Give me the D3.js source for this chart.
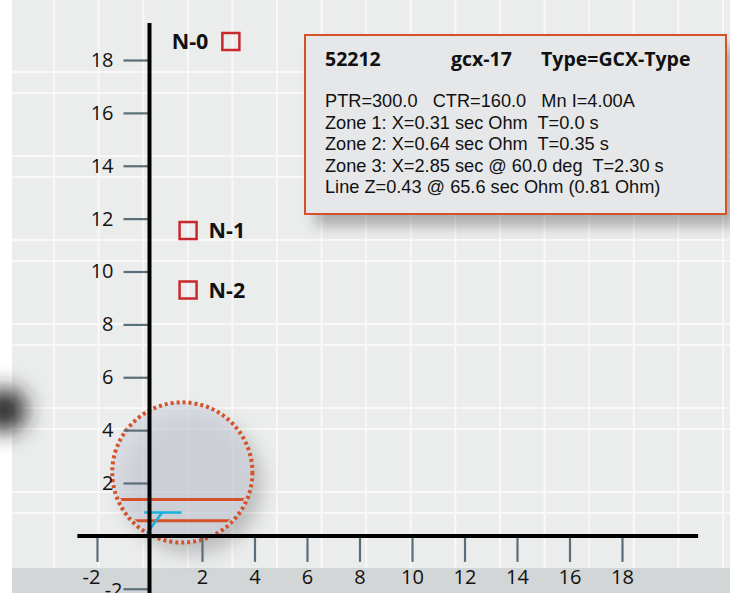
<!DOCTYPE html>
<html><head><meta charset="utf-8">
<script src="https://cdn.jsdelivr.net/npm/d3@7"></script>
<style>body{margin:0;background:#fff;} svg{display:block;font-family:"Open Sans",sans-serif;}</style>
</head><body><svg id="c" width="730" height="593"></svg>
<script>
// ---- data ----
const xTicks = [-2, 2, 4, 6, 8, 10, 12, 14, 16, 18];
const yTicks = [-2, 2, 4, 6, 8, 10, 12, 14, 16, 18];
const markerNames = ["N-0", "N-1", "N-2"];
const markerX = [3.1, 1.47, 1.47];
const markerY = [18.7, 11.55, 9.3];
const markerLabelSide = ["left", "right", "right"];
const zone3Center = [1.25, 2.4];
const zone3Radius = 2.67;
const zoneReach = [1.38, 0.57];
const lineZSlope = [[-0.1, 0.1], [0.48, 0.88]];
const lineZTop = [[-0.2, 0.88], [1.22, 0.88]];
const headerItems = ["52212", "gcx-17", "Type=GCX-Type"];
const infoLines = [
  "PTR=300.0   CTR=160.0   Mn I=4.00A",
  "Zone 1: X=0.31 sec Ohm  T=0.0 s",
  "Zone 2: X=0.64 sec Ohm  T=0.35 s",
  "Zone 3: X=2.85 sec @ 60.0 deg  T=2.30 s",
  "Line Z=0.43 @ 65.6 sec Ohm (0.81 Ohm)"
];

// ---- setup ----
const svg = d3.select("#c");
const W = 730, H = 593;
const x = d3.scaleLinear().domain([-2, 18]).range([97, 622]);
const y = d3.scaleLinear().domain([2, 18]).range([483, 60]);
const ORANGE = "#d4522a", RED = "#c8282d", CYAN = "#19b0e0", TICK = "#5a6e78";

const defs = svg.append("defs");
const f1 = defs.append("filter").attr("id", "shCirc").attr("x", "-50%").attr("y", "-50%").attr("width", "200%").attr("height", "200%");
f1.append("feDropShadow").attr("dx", 10).attr("dy", 12).attr("stdDeviation", 9).attr("flood-color", "#000").attr("flood-opacity", 0.4);
const f2 = defs.append("filter").attr("id", "shBox").attr("x", "-20%").attr("y", "-30%").attr("width", "140%").attr("height", "160%");
f2.append("feDropShadow").attr("dx", 10).attr("dy", 12).attr("stdDeviation", 7).attr("flood-color", "#000").attr("flood-opacity", 0.28);
const f3 = defs.append("filter").attr("id", "blur").attr("x", "-200%").attr("y", "-200%").attr("width", "500%").attr("height", "500%");
f3.append("feGaussianBlur").attr("stdDeviation", 11);

// background
svg.append("rect").attr("x", 12).attr("y", 0).attr("width", W - 12).attr("height", H).attr("fill", "#ebecec");
// decorative grid
const grid = svg.append("g").attr("stroke", "#f8f8f8").attr("stroke-width", 2);
for (let gx = 54; gx < W; gx += 44.6) grid.append("line").attr("x1", gx).attr("x2", gx).attr("y1", 0).attr("y2", H);
[72, 93, 156, 177, 240, 261, 324, 345, 408, 429, 492, 513].forEach(gy =>
  grid.append("line").attr("x1", 12).attr("x2", W).attr("y1", gy).attr("y2", gy));
// bottom band
svg.append("rect").attr("x", 12).attr("y", 568).attr("width", W - 12).attr("height", 25).attr("fill", "#d3d6d6");
// blob
svg.append("circle").attr("cx", 4).attr("cy", 410).attr("r", 22).attr("fill", "#222").attr("filter", "url(#blur)");

// zone 3 circle
const cx = x(zone3Center[0]), cy = y(zone3Center[1]);
const rpx = x(zone3Radius) - x(0);
svg.append("circle").attr("cx", cx).attr("cy", cy).attr("r", rpx)
  .attr("fill", "rgba(200,203,215,0.5)").attr("filter", "url(#shCirc)");
defs.append("clipPath").attr("id", "clipC").append("circle").attr("cx", cx).attr("cy", cy).attr("r", rpx - 3);
svg.append("g").attr("clip-path", "url(#clipC)").selectAll("line").data(zoneReach).join("line")
  .attr("x1", x(-4)).attr("x2", x(7)).attr("y1", d => y(d)).attr("y2", d => y(d))
  .attr("stroke", ORANGE).attr("stroke-width", 3);
svg.append("circle").attr("cx", cx).attr("cy", cy).attr("r", rpx)
  .attr("fill", "none").attr("stroke", ORANGE).attr("stroke-width", 4).attr("stroke-dasharray", "3,3");

// line Z
const ln = d3.line().x(d => x(d[0])).y(d => y(d[1]));
[lineZTop, lineZSlope].forEach(seg => svg.append("path").attr("d", ln(seg))
  .attr("stroke", CYAN).attr("stroke-width", 2.5).attr("fill", "none"));

// axes
const fmt = d => String(d);
const xAxis = svg.append("g").attr("transform", `translate(0,${y(0)})`)
  .call(d3.axisBottom(x).tickValues(xTicks).tickFormat(fmt).tickSize(26).tickPadding(8));
const yAxis = svg.append("g").attr("transform", `translate(${x(0)},0)`)
  .call(d3.axisLeft(y).tickValues(yTicks).tickFormat(fmt).tickSize(26).tickPadding(10));
[xAxis, yAxis].forEach(a => {
  a.select(".domain").remove();
  a.selectAll(".tick line").attr("stroke", TICK).attr("stroke-width", 2.2);
  a.selectAll(".tick text").attr("fill", "#111").attr("font-size", 20).attr("font-family", "Open Sans, sans-serif");
});
xAxis.selectAll(".tick text").filter(d => d < 0).attr("dx", -6);
yAxis.selectAll(".tick text").filter(d => d < 0).attr("dx", 9).attr("dy", "0.4em");
// main axis lines
svg.append("line").attr("x1", x(-2.75)).attr("x2", x(20.9)).attr("y1", y(0)).attr("y2", y(0))
  .attr("stroke", "#000").attr("stroke-width", 4);
svg.append("line").attr("x1", x(0)).attr("x2", x(0)).attr("y1", y(19.4)).attr("y2", y(-3))
  .attr("stroke", "#000").attr("stroke-width", 4);

// markers
const S = 17;
markerNames.forEach((name, i) => {
  const px = x(markerX[i]), py = y(markerY[i]);
  svg.append("rect").attr("x", px - S / 2).attr("y", py - S / 2).attr("width", S).attr("height", S)
    .attr("fill", "none").attr("stroke", RED).attr("stroke-width", 2.5);
  const left = markerLabelSide[i] === "left";
  svg.append("text").attr("x", left ? px - S / 2 - 14 : px + S / 2 + 12).attr("y", py).attr("dy", "0.36em")
    .attr("text-anchor", left ? "end" : "start").attr("font-weight", "bold").attr("font-size", 21.5)
    .attr("fill", "#111").text(name);
});

// info box
svg.append("rect").attr("x", 305).attr("y", 35).attr("width", 421).attr("height", 179)
  .attr("fill", "#e6e7e8").attr("filter", "url(#shBox)");
svg.append("rect").attr("x", 305).attr("y", 35).attr("width", 421).attr("height", 179)
  .attr("fill", "none").attr("stroke", ORANGE).attr("stroke-width", 2);
const hx = [325, 451, 541];
headerItems.forEach((t, i) => svg.append("text").attr("x", hx[i]).attr("y", 66)
  .attr("font-weight", "bold").attr("font-size", 19.5).attr("fill", "#111").text(t));
infoLines.forEach((t, i) => svg.append("text").attr("x", 325).attr("y", 107 + i * 21.5)
  .attr("font-family", "Liberation Sans, Arial, sans-serif")
  .attr("font-size", 18.2).attr("fill", "#111").style("white-space", "pre").text(t));
</script></body></html>
